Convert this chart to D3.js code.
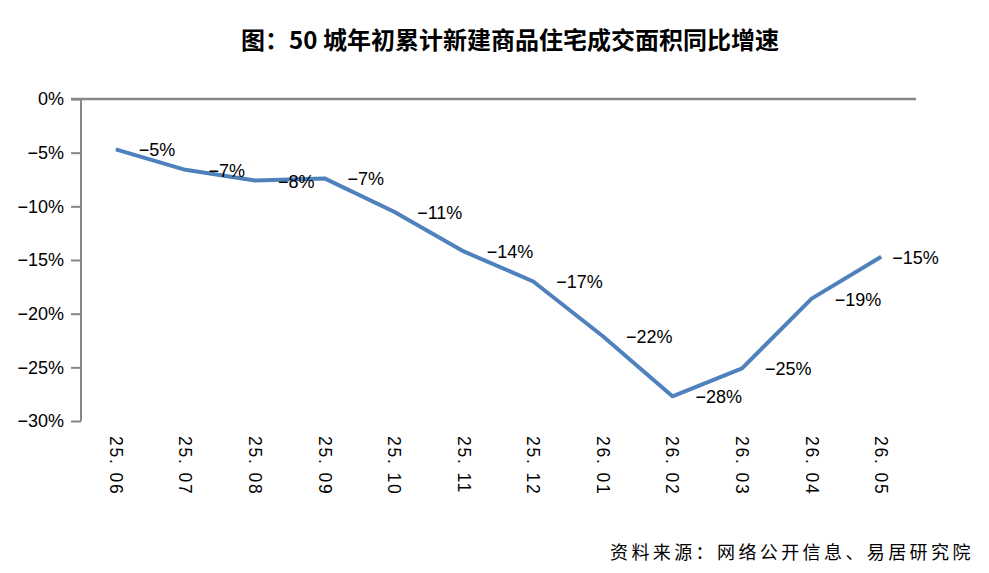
<!DOCTYPE html>
<html>
<head>
<meta charset="utf-8">
<script src="https://d3js.org/d3.v7.min.js"></script>
<style>
body { margin: 0; background: #fff; }
svg { display: block; }
text { font-family: "Liberation Sans", Arial, sans-serif; fill: #000; }
.title { font-family: "Noto Sans CJK SC", sans-serif; font-weight: bold; font-size: 24px; }
.source { font-family: "Noto Sans CJK SC", sans-serif; font-size: 18px; letter-spacing: 3.4px; }
</style>
</head>
<body>
<div id="chart"></div>
<script>

var width = 989;
var height = 573;

var months = ["25. 06", "25. 07", "25. 08", "25. 09", "25. 10", "25. 11",
              "25. 12", "26. 01", "26. 02", "26. 03", "26. 04", "26. 05"];
var growth = [-4.7, -6.6, -7.6, -7.4, -10.5, -14.2, -17.0, -22.1, -27.7, -25.1, -18.6, -14.7];
var labels = ["−5%", "−7%", "−8%", "−7%", "−11%", "−14%", "−17%", "−22%", "−28%", "−25%", "−19%", "−15%"];
var yTicks = [0, -5, -10, -15, -20, -25, -30];

var svg = d3.select("#chart").append("svg")
  .attr("width", width).attr("height", height);

var xScale = d3.scaleBand().domain(months).range([81, 916]);
var yScale = d3.scaleLinear().domain([-30, 0]).range([421, 99]);

function cx(d) { return xScale(d) + xScale.bandwidth() / 2; }

svg.append("text")
  .attr("class", "title")
  .attr("x", 510).attr("y", 38)
  .attr("text-anchor", "middle")
  .attr("dominant-baseline", "central")
  .text("图：50 城年初累计新建商品住宅成交面积同比增速");

// y axis
var yAxis = d3.axisLeft(yScale)
  .tickValues(yTicks)
  .tickSize(10)
  .tickPadding(7)
  .tickFormat(function (d) { return d === 0 ? "0%" : "−" + Math.abs(d) + "%"; });

var yg = svg.append("g")
  .attr("transform", "translate(81,0)")
  .call(yAxis);
yg.select(".domain").attr("stroke", "#868686").attr("stroke-width", 2)
  .attr("d", "M0," + yScale(-30) + "V" + yScale(0));
yg.selectAll(".tick line").attr("stroke", "#868686").attr("stroke-width", 2);
yg.selectAll(".tick text")
  .style("font-family", "'Liberation Sans', Arial, sans-serif")
  .style("font-size", "18px")
  .attr("fill", "#000");

// zero line
svg.append("line")
  .attr("x1", 71).attr("x2", 916)
  .attr("y1", yScale(0)).attr("y2", yScale(0))
  .attr("stroke", "#868686").attr("stroke-width", 2.5);

// x labels, rotated, at bottom
svg.append("g").selectAll("text")
  .data(months)
  .enter().append("text")
  .attr("transform", function (d) { return "translate(" + cx(d) + ",436) rotate(90)"; })
  .attr("dominant-baseline", "central")
  .style("font-size", "17.5px")
  .style("letter-spacing", "1.8px")
  .text(function (d) { return d; });

var line = d3.line()
  .x(function (d, i) { return cx(months[i]); })
  .y(function (d) { return yScale(d); });

svg.append("path")
  .datum(growth)
  .attr("d", line)
  .attr("fill", "none")
  .attr("stroke", "#4F81BD")
  .attr("stroke-width", 4)
  .attr("stroke-linejoin", "round");

// last label sits closer to its point
svg.append("g").selectAll("text")
  .data(growth)
  .enter().append("text")
  .attr("x", function (d, i) { return cx(months[i]) + (i === growth.length - 1 ? 11 : 23); })
  .attr("y", function (d) { return yScale(d) + 1; })
  .attr("dominant-baseline", "central")
  .style("font-size", "18px")
  .text(function (d, i) { return labels[i]; });

svg.append("text")
  .attr("class", "source")
  .attr("x", 610).attr("y", 551)
  .attr("dominant-baseline", "central")
  .text("资料来源：网络公开信息、易居研究院");

</script>
</body>
</html>
